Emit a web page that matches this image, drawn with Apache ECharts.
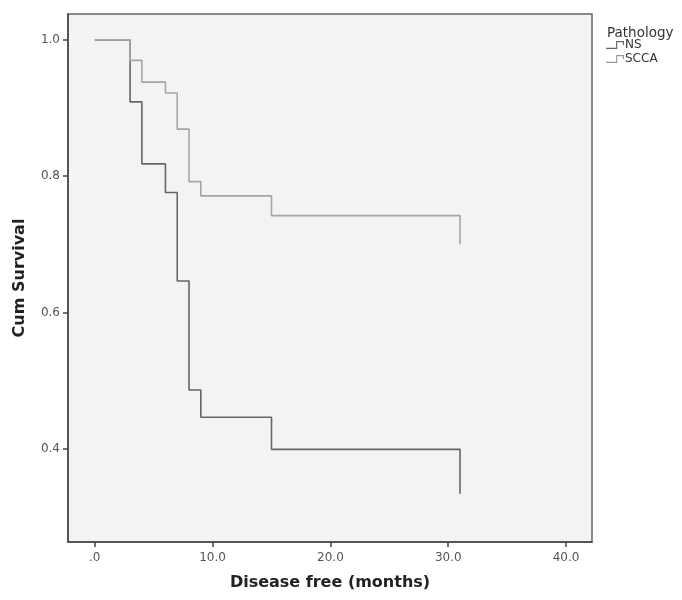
<!DOCTYPE html>
<html>
<head>
<meta charset="utf-8">
<script src="https://cdn.jsdelivr.net/npm/echarts@6/dist/echarts.min.js"></script>
<style>html,body{margin:0;padding:0;background:#fff}#c{width:682px;height:600px}</style>
</head>
<body>
<div id="c"></div>
<script>
// Data (Kaplan-Meier step curves)
var seriesNames = ['NS', 'SCCA'];
var nsTime   = [0, 3, 4, 6, 7, 8, 9, 15, 31];
var nsSurv   = [1.0, 0.909, 0.818, 0.776, 0.646, 0.486, 0.446, 0.399, 0.334];
var sccaTime = [0, 3, 4, 6, 7, 8, 9, 15, 31];
var sccaSurv = [1.0, 0.970, 0.938, 0.922, 0.869, 0.792, 0.771, 0.742, 0.700];
var xTicks = [0, 10, 20, 30, 40];
var yTicks = [0.4, 0.6, 0.8, 1.0];

function pairs(t, s) { return t.map(function (v, i) { return [v, s[i]]; }); }

var chart = echarts.init(document.getElementById('c'), null, {renderer: 'canvas'});
var iconPath = 'path://M0,6 L9,6 L9,0 L16,0 L16,3.5 L15,3.5 L15,1 L10,1 L10,7 L0,7 Z';
chart.setOption({
  backgroundColor: '#ffffff',
  animation: false,
  grid: {
    left: 68, right: 90, top: 14, bottom: 58, containLabel: false, outerBoundsMode: 'none',
    show: true, backgroundColor: '#f3f3f3', borderColor: '#666', borderWidth: 1.5
  },
  title: {
    text: 'Pathology', left: 602, top: 21,
    textStyle: {fontFamily: 'DejaVu Sans', fontSize: 13.5, fontWeight: 'normal', color: '#333'}
  },
  legend: {
    orient: 'vertical', left: 606, top: 39, padding: 0, itemGap: 2,
    itemWidth: 18, itemHeight: 8,
    data: [
      {name: 'NS', icon: iconPath, itemStyle: {color: '#666'}},
      {name: 'SCCA', icon: iconPath, itemStyle: {color: '#999'}}
    ],
    textStyle: {fontFamily: 'DejaVu Sans', fontSize: 12, color: '#333', padding: [0, 0, 0, -4]}
  },
  xAxis: {
    type: 'value', min: -2.27, max: 42.2,
    name: 'Disease free (months)', nameLocation: 'middle', nameGap: 33,
    nameTextStyle: {fontFamily: 'DejaVu Sans', fontWeight: 'bold', fontSize: 16, color: '#222'},
    axisLine: {show: true, onZero: false, lineStyle: {color: '#444', width: 1.5}},
    axisTick: {show: true, inside: false, length: 5, customValues: xTicks, lineStyle: {color: '#444', width: 1.5}},
    axisLabel: {
      customValues: xTicks, margin: 10, showMinLabel: true, showMaxLabel: true,
      fontFamily: 'DejaVu Sans', fontSize: 12, color: '#555',
      formatter: function (v) { return v === 0 ? '.0' : v.toFixed(1); }
    },
    splitLine: {show: false}
  },
  yAxis: {
    type: 'value', min: 0.263, max: 1.038,
    name: 'Cum Survival', nameLocation: 'middle', nameGap: 40, nameRotate: 90,
    nameTextStyle: {fontFamily: 'DejaVu Sans', fontWeight: 'bold', fontSize: 16, color: '#222'},
    axisLine: {show: true, onZero: false, lineStyle: {color: '#444', width: 1.5}},
    axisTick: {show: true, inside: false, length: 5, customValues: yTicks, lineStyle: {color: '#444', width: 1.5}},
    axisLabel: {
      customValues: yTicks, margin: 8, showMinLabel: true, showMaxLabel: true,
      fontFamily: 'DejaVu Sans', fontSize: 12, color: '#555',
      formatter: function (v) { return v.toFixed(1); }
    },
    splitLine: {show: false}
  },
  series: [
    {
      name: seriesNames[0], type: 'line', step: 'end', data: pairs(nsTime, nsSurv),
      symbol: 'none', lineStyle: {color: '#666', width: 1.6}, itemStyle: {color: '#666'}
    },
    {
      name: seriesNames[1], type: 'line', step: 'end', data: pairs(sccaTime, sccaSurv),
      symbol: 'none', lineStyle: {color: '#a6a6a6', width: 1.6}, itemStyle: {color: '#999'}
    }
  ]
});
</script>
</body>
</html>
